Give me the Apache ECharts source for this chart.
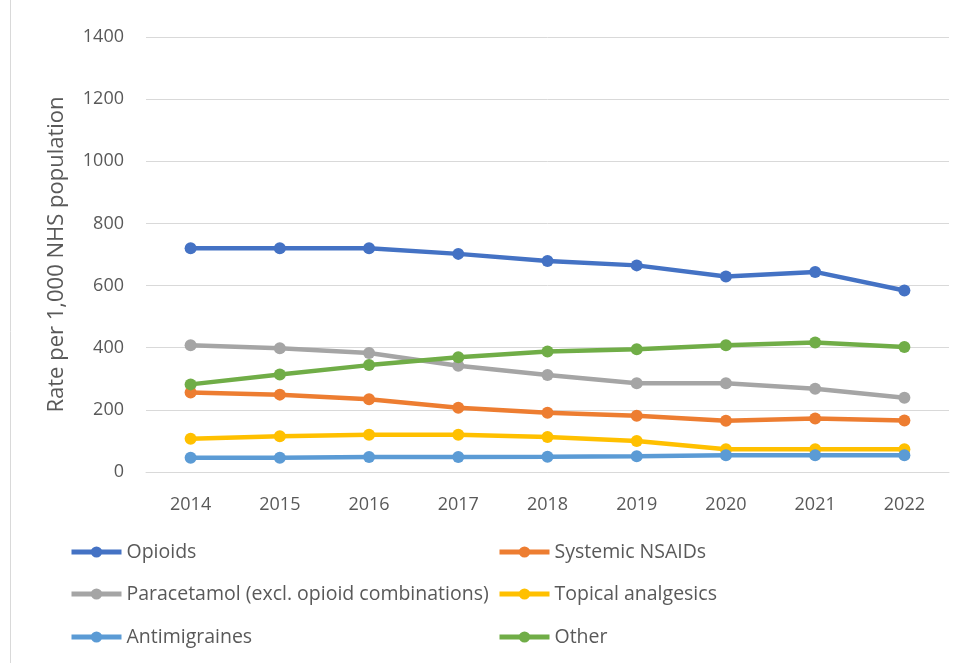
<!DOCTYPE html>
<html><head><meta charset="utf-8">
<script src="https://cdn.jsdelivr.net/npm/echarts@6/dist/echarts.min.js"></script>
<style>html,body{margin:0;padding:0;background:#fff}#c{width:958px;height:663px}</style>
</head><body><div id="c"></div>
<script>
const years = ['2014','2015','2016','2017','2018','2019','2020','2021','2022'];
const opioids = [720, 720, 720, 702, 679, 665, 629, 644, 584];
const nsaids = [256, 249, 234, 207, 191, 181, 165, 172, 166];
const paracetamol = [408, 398, 383, 342, 312, 286, 286, 268, 239];
const topical = [107, 115, 120, 120, 113, 100, 73, 73, 73];
const antimigraines = [46, 46, 48, 48, 49, 51, 54, 54, 54];
const other = [282, 314, 344, 369, 388, 395, 408, 417, 402];
const yTicks = [0, 200, 400, 600, 800, 1000, 1200, 1400];

const names = ['Opioids','Systemic NSAIDs','Paracetamol (excl. opioid combinations)','Topical analgesics','Antimigraines','Other'];
const datas = [opioids, nsaids, paracetamol, topical, antimigraines, other];
const colors = ['#4472C4','#ED7D31','#A5A5A5','#FFC000','#5B9BD5','#70AD47'];
const font = '"Open Sans", sans-serif';

const legendPos = [[69,552],[497,552],[69,594],[497,594],[69,637],[497,637]];

const chart = echarts.init(document.getElementById('c'));
chart.setOption({
  animation: false,
  color: colors,
  textStyle: {fontFamily: font},
  grid: {left: 146, right: 9, top: 37, bottom: 191},
  xAxis: {
    type: 'category', data: years, boundaryGap: true,
    axisLine: {lineStyle: {color: '#d9d9d9', width: 1}},
    axisTick: {show: false},
    axisLabel: {color: '#595959', fontSize: 18, margin: 24, fontFamily: font}
  },
  yAxis: {
    type: 'value', min: yTicks[0], max: yTicks[yTicks.length-1], interval: 200,
    axisLine: {show: false}, axisTick: {show: false},
    splitLine: {lineStyle: {color: '#d9d9d9', width: 1}},
    axisLabel: {color: '#595959', fontSize: 18, margin: 22, fontFamily: font, formatter: v => String(v)},
    name: 'Rate per 1,000 NHS population', nameLocation: 'middle', nameGap: 78,
    nameTextStyle: {color: '#595959', fontSize: 22, fontFamily: font}
  },
  legend: names.map((n, i) => ({
    data: [n], left: legendPos[i][0], top: legendPos[i][1] - 10, padding: 0,
    itemWidth: 50, itemHeight: 14, itemGap: 0,
    lineStyle: {width: 5},
    textStyle: {color: '#595959', fontSize: 19.5, lineHeight: 20, fontFamily: font}
  })),
  graphic: [{type: 'line', shape: {x1: 10.5, y1: 0, x2: 10.5, y2: 663}, style: {stroke: '#d9d9d9', lineWidth: 1}}],
  series: names.map((n, i) => ({
    name: n, type: 'line', data: datas[i],
    symbol: 'circle', symbolSize: 12,
    lineStyle: {width: 4.5, color: colors[i]},
    itemStyle: {color: colors[i]}
  }))
});
</script></body></html>
